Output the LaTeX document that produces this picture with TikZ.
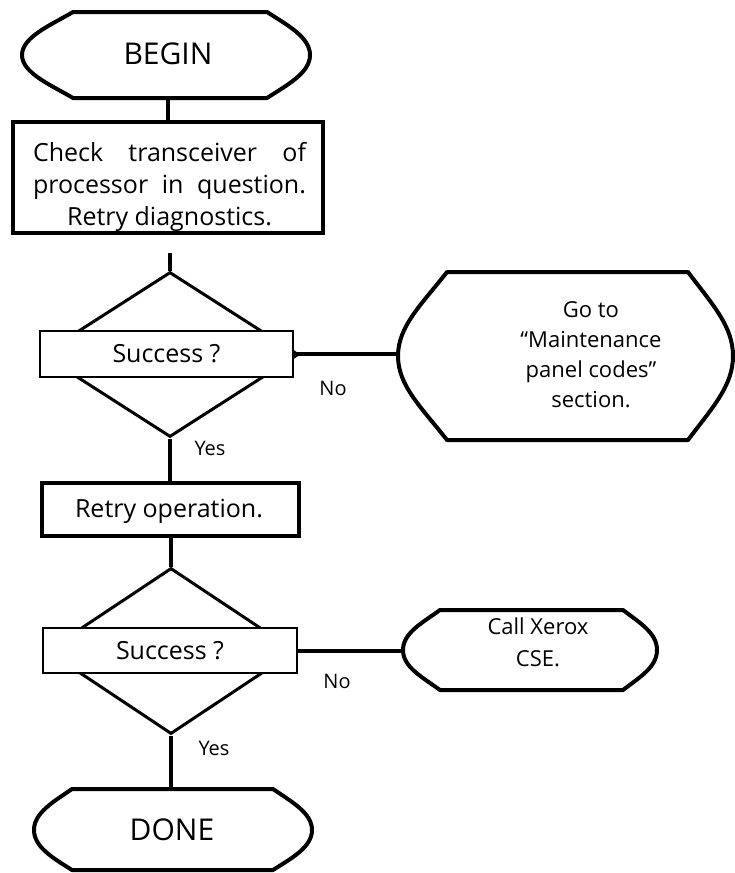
\documentclass[tikz,border=0pt]{standalone}
\usepackage{fontspec}
\setmainfont{Open Sans}
\usetikzlibrary{shapes.geometric}
\begin{document}
\begin{tikzpicture}[x=1pt,y=-1pt,
  outline/.style={line width=4pt, line join=round},
  conn/.style={line width=4pt},
  procbox/.style={draw, rectangle, line width=4pt, inner sep=0pt},
  decision/.style={draw, diamond, line width=3pt, inner sep=0pt},
  qbox/.style={draw, rectangle, fill=white, line width=2pt, inner sep=0pt, font=\fontsize{25}{30}\selectfont},
  area/.style={rectangle, inner sep=0pt},
  txt/.style={inner sep=0pt, font=\fontsize{25}{32}\selectfont},
  smalltxt/.style={inner sep=0pt, font=\fontsize{22}{30}\selectfont},
  bigtxt/.style={font=\fontsize{30}{36}\selectfont},
  lbl/.style={inner sep=0pt, font=\fontsize{20}{22}\selectfont}]
\useasboundingbox (0,0) rectangle (735,873);

% BEGIN terminal
\draw[outline] (73,12) -- (267,12) .. controls (287,25) and (310,37) .. (310,55)
  .. controls (310,73) and (287,85) .. (267,98) -- (73,98)
  .. controls (51,85) and (22,73) .. (22,55) .. controls (22,37) and (51,25) .. (73,12) -- cycle;
\node[area, bigtxt, minimum width=288pt, minimum height=86pt] (begin) at (168,54) {BEGIN};

% first process box
\node[procbox, minimum width=310pt, minimum height=111pt] (box1) at (168,177.5) {};
\node[txt, align=center] (box1txt) at (169.5,186.5)
  {\makebox[273pt][s]{Check transceiver of}\\\makebox[273pt][s]{processor in question.}\\Retry diagnostics.};

% first decision
\node[decision, minimum width=257pt, minimum height=165pt] (d1) at (170,354.5) {};
\node[qbox, minimum width=253pt, minimum height=46pt] (s1) at (166.5,354) {Success ?};
\coordinate (g1) at (170,253);

% Go to terminal
\draw[outline] (447,272) -- (688,272) .. controls (712,304) and (733,326) .. (733,356)
  .. controls (733,386) and (712,408) .. (688,440) -- (447,440)
  .. controls (422,408) and (398,386) .. (398,356) .. controls (398,326) and (422,304) .. (447,272) -- cycle;
\node[area, minimum width=335pt, minimum height=168pt] (goto) at (565.5,356) {};
\node[smalltxt, align=center] (gototxt) at (591,355) {Go to\\“Maintenance\\panel codes”\\section.};

% second process box
\node[procbox, minimum width=257pt, minimum height=53pt] (box2) at (170.5,509.5) {};
\node[txt, anchor=base] (box2txt) at (169,517) {Retry operation.};

% second decision
\node[decision, minimum width=249pt, minimum height=166pt] (d2) at (171,651) {};
\node[qbox, minimum width=254pt, minimum height=45pt] (s2) at (170,650.5) {Success ?};

% Call Xerox terminal
\draw[outline] (440,610) -- (623,610) .. controls (640,623) and (657,633) .. (657,650)
  .. controls (657,667) and (640,677) .. (623,690) -- (440,690)
  .. controls (422,677) and (403,667) .. (403,650) .. controls (403,633) and (422,623) .. (440,610) -- cycle;
\node[area, minimum width=254pt, minimum height=80pt] (call) at (530,650) {};
\node[smalltxt, align=center, font=\fontsize{22}{32}\selectfont] (calltxt) at (538,642) {Call Xerox\\CSE.};

% DONE terminal
\draw[outline] (72,789) -- (273,789) .. controls (292,802) and (312,813) .. (312,830)
  .. controls (312,847) and (292,858) .. (273,870) -- (72,870)
  .. controls (53,858) and (34,847) .. (34,830) .. controls (34,813) and (53,802) .. (72,789) -- cycle;
\node[area, bigtxt, minimum width=278pt, minimum height=81pt] (done) at (172,829.5) {DONE};

% connectors
\draw[conn] (begin.south) -- (box1.north);
\draw[conn] (g1) -- (d1.north);
\draw[conn] (s1.east) -- (s1.east -| goto.west);
\draw[conn] (d1.south) -- (d1.south |- box2.north);
\draw[conn] (box2.south) -- (box2.south |- d2.north);
\draw[conn] (s2.east) -- (s2.east -| call.west);
\draw[conn] (d2.south) -- (d2.south |- done.north);

% labels
\node[lbl, anchor=base] (no1) at (333,395) {No};
\node[lbl, anchor=base] (yes1) at (210,455) {Yes};
\node[lbl, anchor=base] (no2) at (337,688) {No};
\node[lbl, anchor=base] (yes2) at (214,755) {Yes};
\end{tikzpicture}
\end{document}
